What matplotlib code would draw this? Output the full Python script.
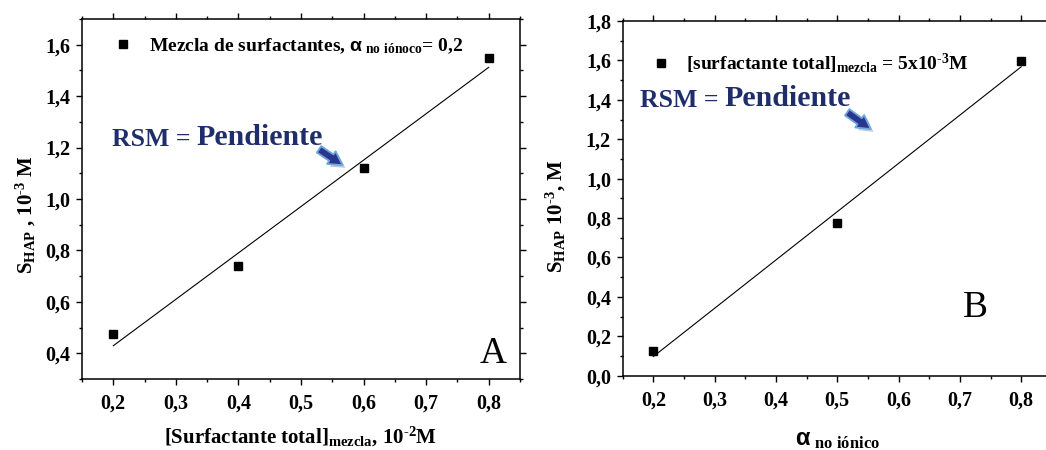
import numpy as np
import matplotlib.pyplot as plt
from matplotlib.ticker import MultipleLocator, FuncFormatter
from matplotlib.patches import FancyArrowPatch
import matplotlib.patheffects as pe

# Times-like bold text everywhere, including inside math strings
plt.rcParams['font.family'] = 'Liberation Serif'
plt.rcParams['font.weight'] = 'bold'
plt.rcParams['axes.labelweight'] = 'bold'
plt.rcParams['mathtext.fontset'] = 'custom'
plt.rcParams['mathtext.rm'] = 'Liberation Serif:bold'
plt.rcParams['mathtext.it'] = 'Liberation Serif:bold'
plt.rcParams['mathtext.bf'] = 'Liberation Serif:bold'
plt.rcParams['mathtext.sf'] = 'Liberation Sans:bold'
plt.rcParams['mathtext.default'] = 'rm'

# Panel A: solubility vs total surfactant concentration
conc_total = np.array([0.2, 0.4, 0.6, 0.8])
s_hap_a = np.array([0.474, 0.739, 1.12, 1.55])

# Panel B: solubility vs non-ionic mole fraction
alpha_noionico = np.array([0.2, 0.5, 0.8])
s_hap_b = np.array([0.127, 0.773, 1.597])

rsm_color = '#1f2d6b'
comma_fmt = FuncFormatter(lambda v, p: f"{v:.1f}".replace('.', ','))
HY = '\u2010'  # plain hyphen inside exponents instead of a math minus


def style_axes(ax):
    for sp in ax.spines.values():
        sp.set_linewidth(1.1)
    ax.tick_params(which='both', direction='out', width=1.0,
                   labelsize=14.5, top=True, right=True,
                   labeltop=False, labelright=False)
    ax.tick_params(which='major', length=4.5, pad=4)
    ax.tick_params(which='minor', length=2.5)
    ax.tick_params(axis='x', which='major', pad=6)
    ax.xaxis.set_major_locator(MultipleLocator(0.1))
    ax.xaxis.set_minor_locator(MultipleLocator(0.05))
    ax.yaxis.set_major_locator(MultipleLocator(0.2))
    ax.yaxis.set_minor_locator(MultipleLocator(0.1))
    ax.xaxis.set_major_formatter(comma_fmt)
    ax.yaxis.set_major_formatter(comma_fmt)
    for lab in ax.get_xticklabels() + ax.get_yticklabels():
        lab.set_fontweight('bold')


def fit_line(ax, x, y):
    slope, icpt = np.polyfit(x, y, 1)
    xs = np.array([x.min(), x.max()])
    ax.plot(xs, slope * xs + icpt, color='black', lw=0.8, zorder=2)


def rsm_note(ax, x, y, ax0, ay0, ax1, ay1):
    t1 = ax.text(x, y, 'RSM = ', transform=ax.transAxes, fontsize=18.5,
                 fontweight='bold', color=rsm_color, va='baseline', ha='left')
    ax.annotate('Pendiente', xy=(1, 0), xycoords=t1, xytext=(0, 0),
                textcoords='offset points', fontsize=21.5, fontweight='bold',
                color=rsm_color, va='bottom', ha='left')
    arrow = FancyArrowPatch((ax0, ay0), (ax1, ay1), transform=ax.transAxes,
                            arrowstyle='simple,head_width=0.9,head_length=0.8,tail_width=0.45',
                            mutation_scale=12, facecolor='#2a3590',
                            edgecolor='#6fa8dc', lw=1.2, zorder=5)
    arrow.set_path_effects([pe.withSimplePatchShadow(offset=(2, -2), shadow_rgbFace='#9aa5b5', alpha=0.6),
                            pe.Normal()])
    ax.add_patch(arrow)


fig = plt.figure(figsize=(10.46, 4.5), dpi=100)
W, H = 1046, 450

# ---- panel A ----
axA = fig.add_axes([82 / W, 1 - 379 / H, 438 / W, 360 / H])
axA.plot(conc_total, s_hap_a, 's', color='black', ms=5.5, zorder=3,
         label=r'Mezcla de surfactantes, $\mathsf{\alpha}_{\ no\ iónoco}$= 0,2')
fit_line(axA, conc_total, s_hap_a)
axA.set_xlim(0.15, 0.85)
axA.set_ylim(0.3, 1.7)
style_axes(axA)
axA.set_xlabel(r'[Surfactante total]$_{mezcla}$, 10$^{' + HY + r'2}$M',
               fontsize=15, fontweight='bold', labelpad=8)
axA.set_ylabel(r'S$_{HAP}$ , 10$^{' + HY + r'3}$ M', fontsize=15,
               fontweight='bold')
axA.yaxis.set_label_coords(-0.100, 0.456)
axA.legend(loc='center left', bbox_to_anchor=(0.072, 0.925), frameon=False,
           fontsize=14, handlelength=1.0, handletextpad=0.8, borderpad=0,
           borderaxespad=0)
rsm_note(axA, 0.068, 0.648, 0.536, 0.642, 0.600, 0.590)
axA.text(0.970, 0.045, 'A', transform=axA.transAxes, fontsize=27,
         fontweight='normal', ha='right', va='baseline')

# ---- panel B (runs past the right edge of the figure) ----
axB = fig.add_axes([622.7 / W, 1 - 375.7 / H, 429.1 / W, 354.7 / H])
axB.plot(alpha_noionico, s_hap_b, 's', color='black', ms=5.5, zorder=3,
         label=r'[surfactante total]$_{mezcla}$ = 5x10$^{' + HY + r'3}$M')
fit_line(axB, alpha_noionico, s_hap_b)
axB.set_xlim(0.15, 0.85)
axB.set_ylim(0.0, 1.8)
style_axes(axB)
axB.set_xlabel(r'$\mathsf{\alpha}_{\ no\ iónico}$', fontsize=17, labelpad=14)
axB.set_ylabel(r'S$_{HAP}$ 10$^{' + HY + r'3}$, M', fontsize=15,
               fontweight='bold')
axB.yaxis.set_label_coords(-0.127, 0.45)
axB.legend(loc='center left', bbox_to_anchor=(0.067, 0.88), frameon=False,
           fontsize=14, handlelength=1.0, handletextpad=0.8, borderpad=0,
           borderaxespad=0)
rsm_note(axB, 0.040, 0.758, 0.518, 0.747, 0.583, 0.691)
axB.text(0.851, 0.165, 'B', transform=axB.transAxes, fontsize=27,
         fontweight='normal', ha='right', va='baseline')

fig.savefig('out.png', dpi=100)
